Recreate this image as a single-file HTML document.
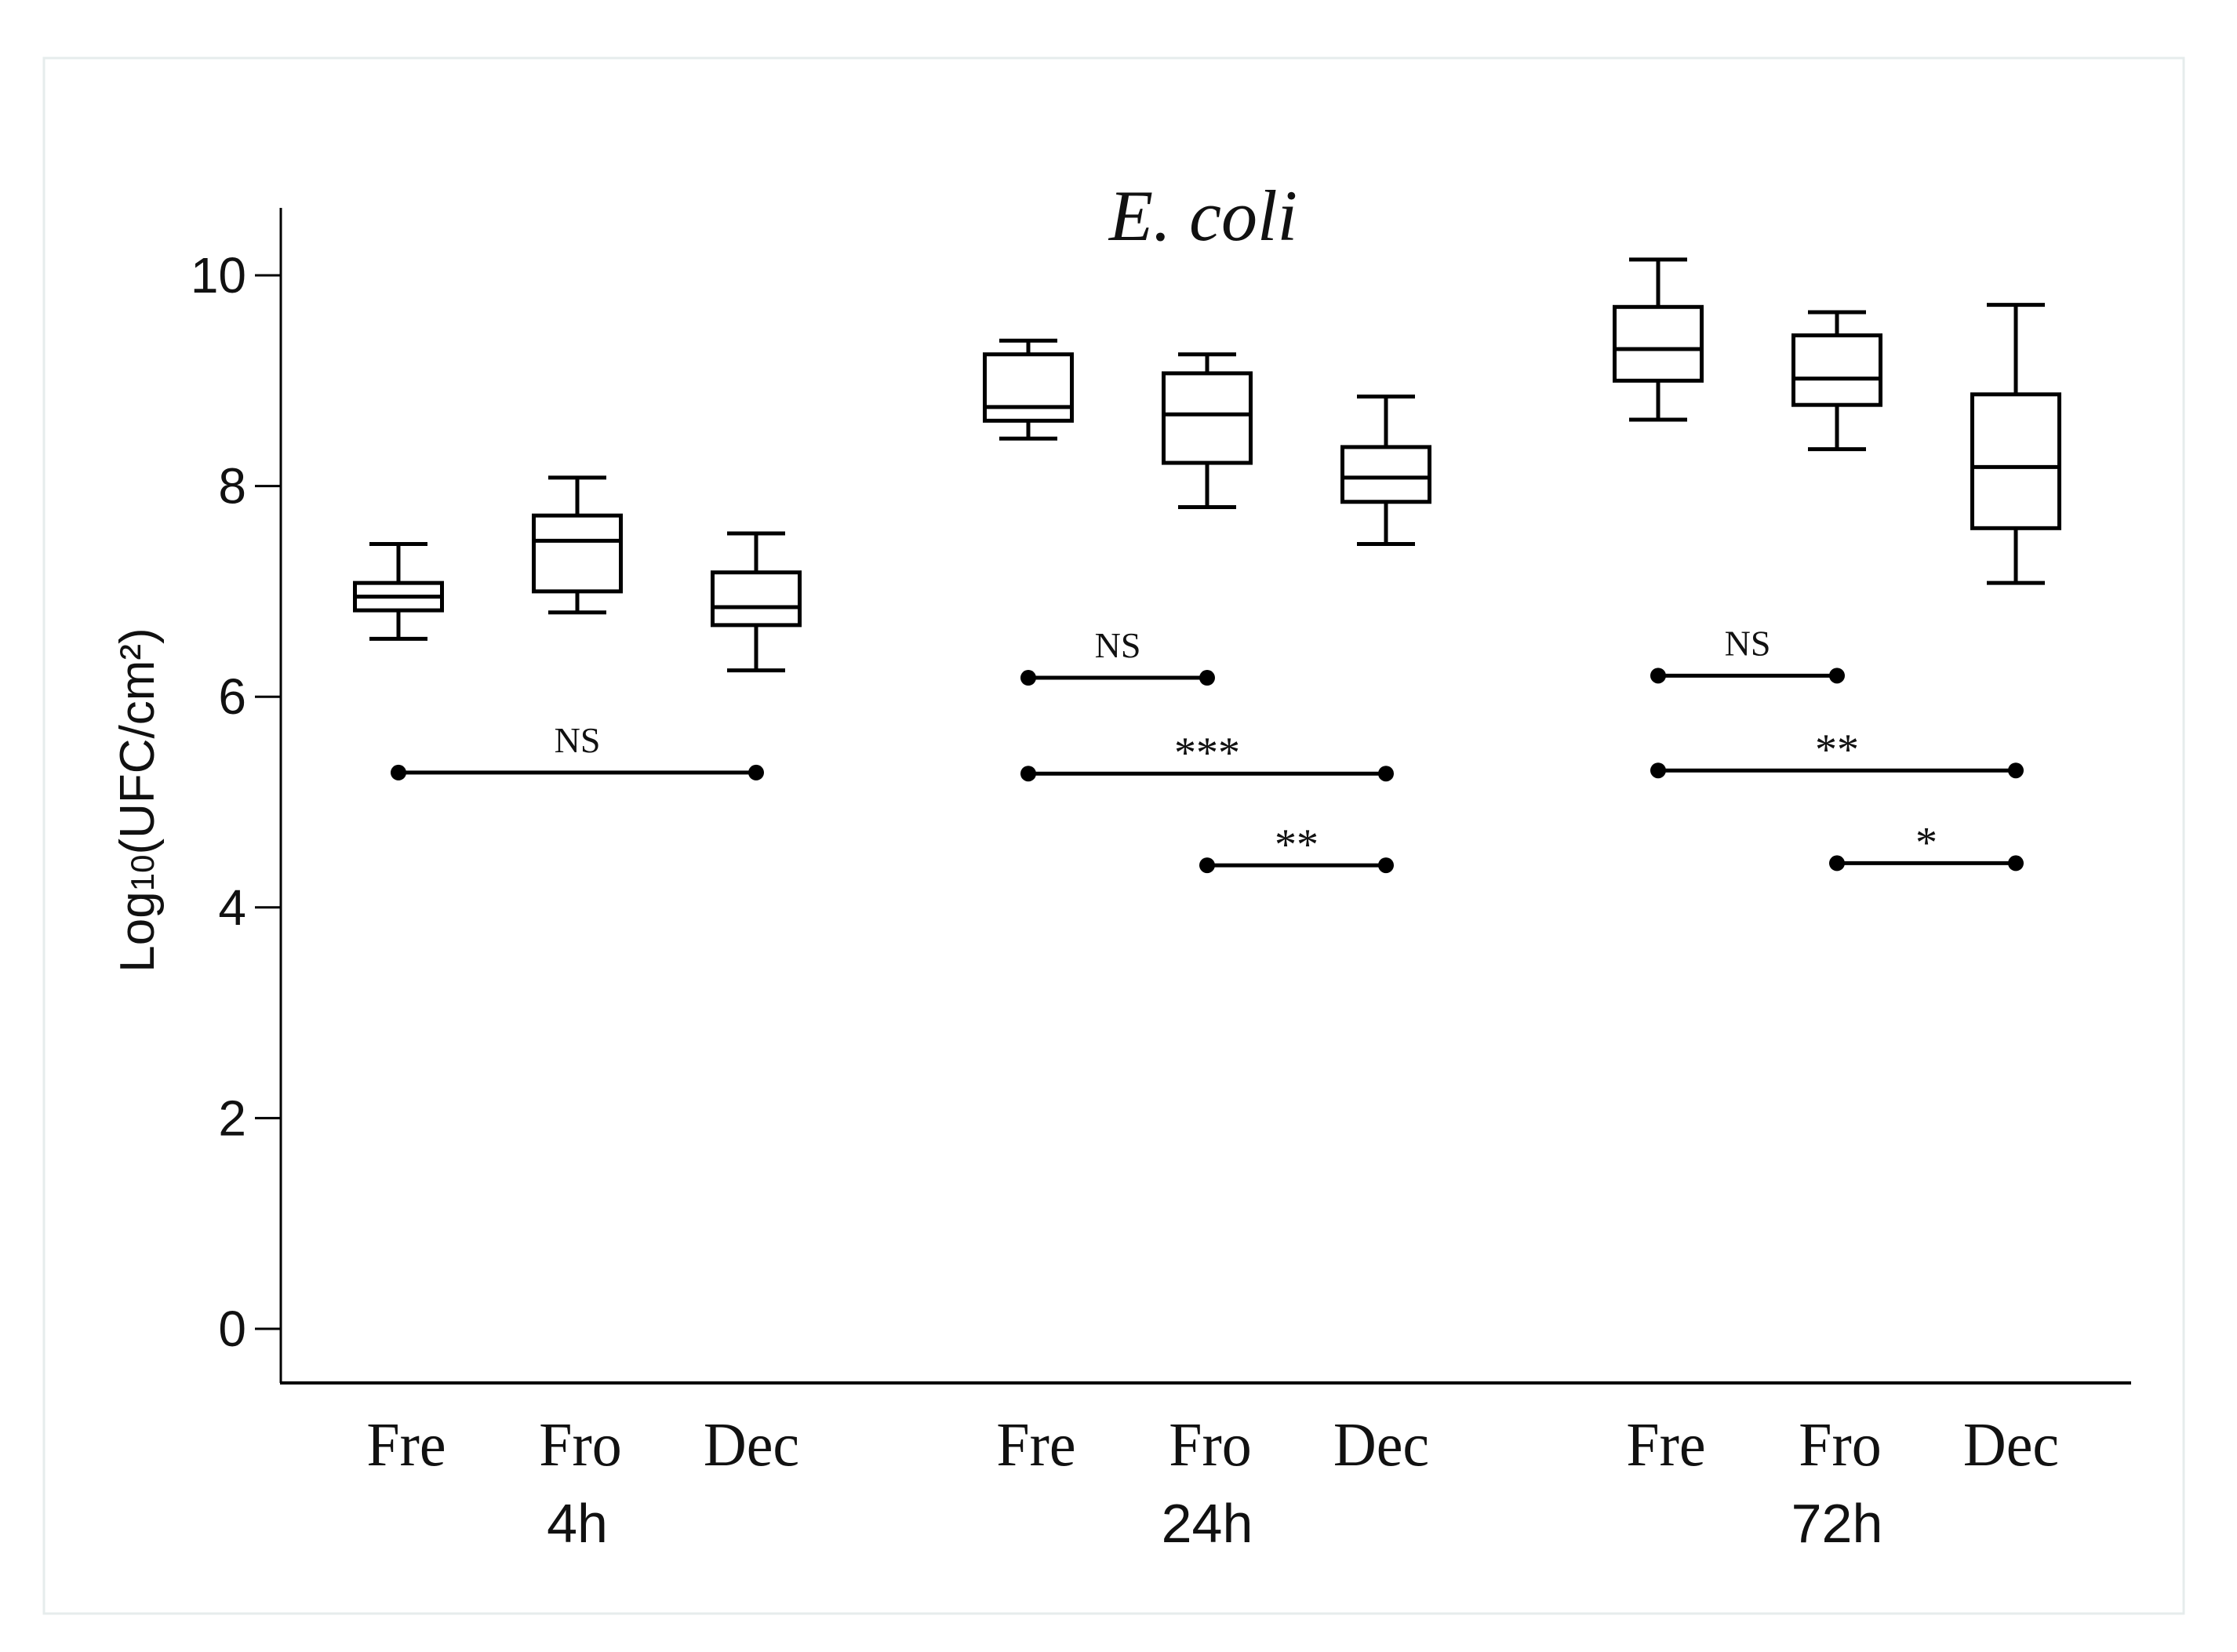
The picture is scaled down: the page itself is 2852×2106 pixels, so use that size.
<!DOCTYPE html>
<html><head><meta charset="utf-8"><style>
html,body{margin:0;padding:0;background:#fff;}
svg{display:block;}
</style></head><body>
<svg width="2852" height="2106" viewBox="0 0 2852 2106" xmlns="http://www.w3.org/2000/svg">
<rect x="56" y="74" width="2728" height="1983" fill="#fff" stroke="#e6ecec" stroke-width="3"/>
<g id="plot"></g>
</svg>
<script>
const categories = ["Fre","Fro","Dec","Fre","Fro","Dec","Fre","Fro","Dec"];
const groups = ["4h","24h","72h"];
const whiskerLow = [6.55,6.8,6.25,8.45,7.8,7.45,8.63,8.35,7.08];
const q1 = [6.82,7.0,6.68,8.62,8.22,7.85,9.0,8.77,7.6];
const medians = [6.95,7.48,6.85,8.75,8.68,8.08,9.3,9.02,8.18];
const q3 = [7.08,7.72,7.18,9.25,9.07,8.37,9.7,9.43,8.87];
const whiskerHigh = [7.45,8.08,7.55,9.38,9.25,8.85,10.15,9.65,9.72];
const yTicks = [0,2,4,6,8,10];
const compFrom = [0,3,3,4,6,6,7];
const compTo = [2,4,5,5,7,8,8];
const compY = [5.28,6.18,5.27,4.4,6.2,5.3,4.42];
const compLabel = ["NS","NS","***","**","NS","**","*"];

const NS="http://www.w3.org/2000/svg";
const g=document.getElementById('plot');
function y(v){return 1694-134.3*v;}
function x(i){const grp=Math.floor(i/3),k=i%3;return 508+grp*803+k*228;}
function mk(t,a,parent){const e=document.createElementNS(NS,t);for(const k in a)e.setAttribute(k,a[k]);(parent||g).appendChild(e);return e;}
const blk="#000";
let ax=mk('line',{x1:358,y1:265,x2:358,y2:1763,stroke:blk,'stroke-width':3});


let bx=mk('line',{x1:357,y1:1763,x2:2717,y2:1763,stroke:blk,'stroke-width':4});


yTicks.forEach(t=>{
  let l=mk('line',{x1:325,y1:y(t),x2:358,y2:y(t),stroke:blk,'stroke-width':3});
  
  
  let tx=mk('text',{x:314,y:y(t)+22,'text-anchor':'end','font-family':'Liberation Sans, sans-serif','font-size':64,fill:'#111'});
  tx.textContent=t;
  
  
});
categories.forEach((c,i)=>{
  const cx=x(i),bw=111,cw=74;
  const grp=mk('g',{});
  
  
  const st={stroke:blk,'stroke-width':5,fill:'none'};
  mk('line',Object.assign({x1:cx,y1:y(whiskerHigh[i]),x2:cx,y2:y(q3[i])},st),grp);
  mk('line',Object.assign({x1:cx,y1:y(q1[i]),x2:cx,y2:y(whiskerLow[i])},st),grp);
  mk('line',Object.assign({x1:cx-cw/2,y1:y(whiskerHigh[i]),x2:cx+cw/2,y2:y(whiskerHigh[i])},st),grp);
  mk('line',Object.assign({x1:cx-cw/2,y1:y(whiskerLow[i]),x2:cx+cw/2,y2:y(whiskerLow[i])},st),grp);
  mk('rect',Object.assign({x:cx-bw/2,y:y(q3[i]),width:bw,height:y(q1[i])-y(q3[i])},st),grp);
  mk('line',Object.assign({x1:cx-bw/2,y1:y(medians[i]),x2:cx+bw/2,y2:y(medians[i])},st),grp);
  const off=[10,4,-6][i%3];
  let tl=mk('text',{x:cx+off,y:1868,'text-anchor':'middle','font-family':'Liberation Serif, serif','font-size':76,fill:'#111',transform:'scale(1,1.05)','transform-origin':cx+' 1868'});
  tl.textContent=c;
  
  
});
groups.forEach((gname,k)=>{
  let t=mk('text',{x:x(k*3+1),y:1966,'text-anchor':'middle','font-family':'Liberation Sans, sans-serif','font-size':70,fill:'#111'});
  t.textContent=gname;
  
  
});
compFrom.forEach((f,i)=>{
  const x1=x(f),x2=x(compTo[i]),yy=y(compY[i]);
  const cg=mk('g',{});
  
  
  mk('line',{x1:x1,y1:yy,x2:x2,y2:yy,stroke:blk,'stroke-width':5},cg);
  mk('circle',{cx:x1,cy:yy,r:10,fill:blk},cg);
  mk('circle',{cx:x2,cy:yy,r:10,fill:blk},cg);
  const star=compLabel[i]!=="NS";
  const t=mk('text',{x:(x1+x2)/2,y:star?yy-8:yy-26,'text-anchor':'middle','font-family':'Liberation Serif, serif','font-size':star?56:46,fill:'#111'},cg);
  t.textContent=compLabel[i];
});
let ti=mk('text',{x:1534,y:306,'text-anchor':'middle','font-family':'Liberation Serif, serif','font-style':'italic','font-size':92,fill:'#111'});
ti.textContent='E. coli';


let yt=mk('text',{x:0,y:0,'text-anchor':'middle','font-family':'Liberation Sans, sans-serif','font-size':62,fill:'#111',transform:'translate(196,1020) rotate(-90)'});
yt.innerHTML='Log<tspan font-size="42">10</tspan>(UFC/cm²)';


</script>
</body></html>
